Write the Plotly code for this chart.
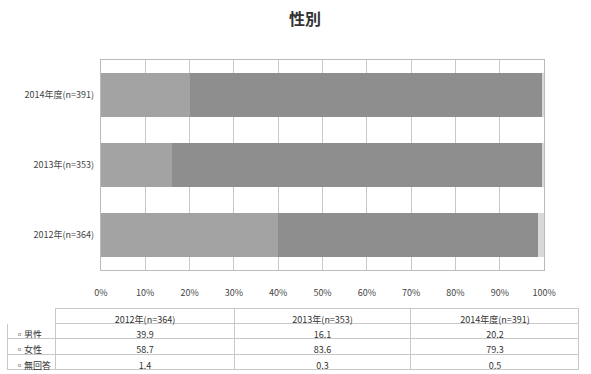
import plotly.graph_objects as go

categories = ["2012年(n=364)", "2013年(n=353)", "2014年度(n=391)"]
series_names = ["男性", "女性", "無回答"]
male = [39.9, 16.1, 20.2]
female = [58.7, 83.6, 79.3]
noanswer = [1.4, 0.3, 0.5]
tick_vals = [0, 10, 20, 30, 40, 50, 60, 70, 80, 90, 100]
tick_text = ["0%", "10%", "20%", "30%", "40%", "50%", "60%", "70%", "80%", "90%", "100%"]

colors = ["#a3a3a3", "#8e8e8e", "#d9d9d9"]
W, H = 591, 374
FONT = "Noto Sans CJK JP"

fig = go.Figure()
for name, vals, c in zip(series_names, [male, female, noanswer], colors):
    fig.add_trace(go.Bar(
        y=categories, x=vals, name=name, orientation="h",
        marker=dict(color=c, line=dict(width=0)),
        showlegend=False, hoverinfo="x+name",
    ))

# data table
label_col = [f"▫{n}" for n in series_names]
cols = [label_col]
for i in range(3):
    cols.append([f"{male[i]:.1f}", f"{female[i]:.1f}", f"{noanswer[i]:.1f}"])

fig.add_trace(go.Table(
    domain=dict(x=[0.0, 1.0], y=[1 - 372 / H, 1 - 308 / H]),
    columnwidth=[50, 184, 182, 173],
    header=dict(
        values=[""] + categories,
        fill_color="white",
        line=dict(color=["white", "#c8c8c8", "#c8c8c8", "#c8c8c8"], width=1),
        font=dict(family=FONT, size=9, color="#333"),
        align="center", height=15,
    ),
    cells=dict(
        values=cols,
        fill_color="white",
        line=dict(color="#c8c8c8", width=1),
        font=dict(family=FONT, size=9, color="#333"),
        align=["left", "center", "center", "center"], height=15.5,
    ),
))

fig.update_layout(
    width=W, height=H,
    barmode="stack", bargap=0.37,
    margin=dict(l=0, r=0, t=0, b=0),
    paper_bgcolor="white", plot_bgcolor="white",
    font=dict(family=FONT, size=9, color="#444"),
    xaxis=dict(
        domain=[97 / W, 555 / W], range=[0, 100],
        tickvals=tick_vals, ticktext=tick_text,
        showgrid=True, gridcolor="#c8c8c8", gridwidth=1,
        zeroline=False, showline=True, linecolor="#bbbbbb", mirror=True,
        ticks="", tickfont=dict(size=9, color="#444"), ticklabelstandoff=14,
    ),
    yaxis=dict(
        domain=[1 - 270 / H, 1 - 60 / H], range=[-0.5, 2.5],
        categoryorder="array", categoryarray=categories,
        showgrid=False, showline=True, linecolor="#bbbbbb", mirror=True,
        ticks="", tickfont=dict(size=9, color="#444"), ticklabelstandoff=4,
    ),
    annotations=[dict(
        text="<b>性別</b>", x=308 / W, y=1 - 18 / H, xref="paper", yref="paper",
        showarrow=False, font=dict(family=FONT, size=16, color="#333"),
        xanchor="center", yanchor="middle",
    )],
)

fig.write_html("out.html")
